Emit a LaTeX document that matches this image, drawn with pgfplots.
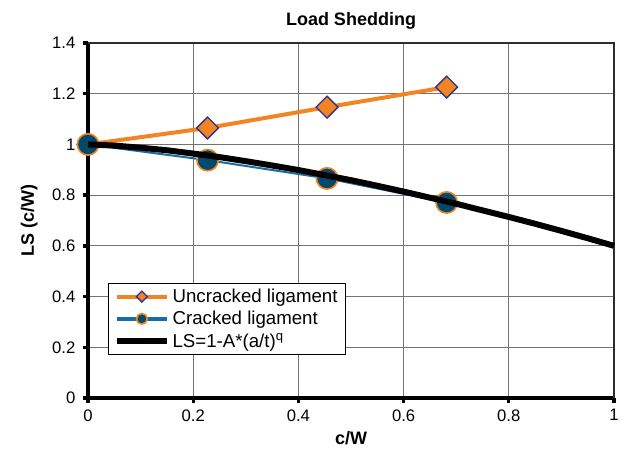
\documentclass[border=0pt]{standalone}
\usepackage{pgfplots}
\pgfplotsset{compat=1.18}
\usepackage{fontspec}
\setmainfont{Liberation Sans}
\usetikzlibrary{calc}
\definecolor{lsorange}{RGB}{242,133,34}
\definecolor{lsnavy}{RGB}{46,49,146}
\definecolor{lsdark}{RGB}{0,74,110}
\definecolor{lsblue}{RGB}{20,110,165}
\definecolor{gridgray}{RGB}{115,115,115}
\definecolor{framegray}{RGB}{45,45,45}
\begin{document}
\begin{tikzpicture}
\begin{axis}[
  name=ax,
  set layers,
  scale only axis,
  width=394.5pt, height=266.25pt,
  xmin=0, xmax=1, ymin=0, ymax=1.4,
  xtick={0,0.2,...,1.01}, ytick={0,0.2,...,1.41},
  xticklabels={0,0.2,0.4,0.6,0.8,1},
  yticklabels={0,0.2,0.4,0.6,0.8,1,1.2,1.4},
  axis x line=bottom, axis y line=left,
  axis line style={-, line width=3pt, black},
  grid=major,
  major grid style={gridgray, line width=0.7pt},
  tick align=outside,
  major tick length=4pt,
  tick style={black, line width=2.5pt},
  ticklabel style={font=\fontsize{12.5}{14}\selectfont},
  yticklabel style={xshift=-2pt},
  xticklabel style={yshift=-1pt},
  /pgf/number format/assume math mode=true,
  title={\bfseries Load Shedding},
  title style={font=\fontsize{13.5}{15}\selectfont, yshift=1pt},
  xlabel={\bfseries c/W},
  ylabel={\bfseries LS (c/W)},
  label style={font=\fontsize{13.5}{15}\selectfont},
  xlabel style={yshift=-1pt},
  ylabel style={yshift=4pt},
  clip=false,
  legend style={at={(0.038,0.324)}, anchor=north west, draw=black, line width=0.8pt,
    fill=white, font=\fontsize{14}{16}\selectfont, row sep=1pt,
    inner xsep=4pt, inner ysep=2pt},
  legend cell align=left,
  legend image code/.code={\draw[mark repeat=2, mark phase=2, every mark/.append style={scale=0.5}]
     plot coordinates {(0cm,0cm) (0.66cm,0cm) (1.32cm,0cm)};},
]
\draw[framegray, line width=1.2pt] (rel axis cs:0,1) -- (rel axis cs:1,1) -- (rel axis cs:1,0);
\addplot[color=lsorange, line width=3pt, mark=square*, mark size=5.8pt,
  mark options={rotate=45, fill=lsorange, draw=lsnavy, line width=1pt, solid}]
  coordinates {(0,1) (0.2273,1.065) (0.4545,1.147) (0.6818,1.226)};
\addlegendentry{Uncracked ligament}
\addplot[color=lsblue, line width=1.5pt, mark=*, mark size=8pt,
  mark options={fill=lsdark, draw=lsorange, line width=1.2pt, solid},
  legend image post style={line width=3pt}]
  coordinates {(0,1) (0.2273,0.938) (0.4545,0.866) (0.6818,0.771)};
\addlegendentry{Cracked ligament}
\addplot[color=black, line width=4.5pt, no marks, on layer=axis foreground]
  coordinates {(0,1) (0.05,0.9955) (0.1,0.987) (0.15,0.977) (0.2,0.964) (0.25,0.950)
  (0.3,0.934) (0.35,0.917) (0.4,0.899) (0.45,0.879) (0.5,0.859) (0.55,0.837)
  (0.6,0.814) (0.65,0.790) (0.7,0.766) (0.75,0.740) (0.8,0.714) (0.85,0.687)
  (0.9,0.659) (0.95,0.630) (1,0.6)};
\addlegendentry{LS=1-A*(a/t)\textsuperscript{q}}
\end{axis}
\pgfresetboundingbox
\path ($(ax.south west)+(-66pt,-41.25pt)$) rectangle ($(ax.north east)+(9.75pt,32.25pt)$);
\end{tikzpicture}
\end{document}
